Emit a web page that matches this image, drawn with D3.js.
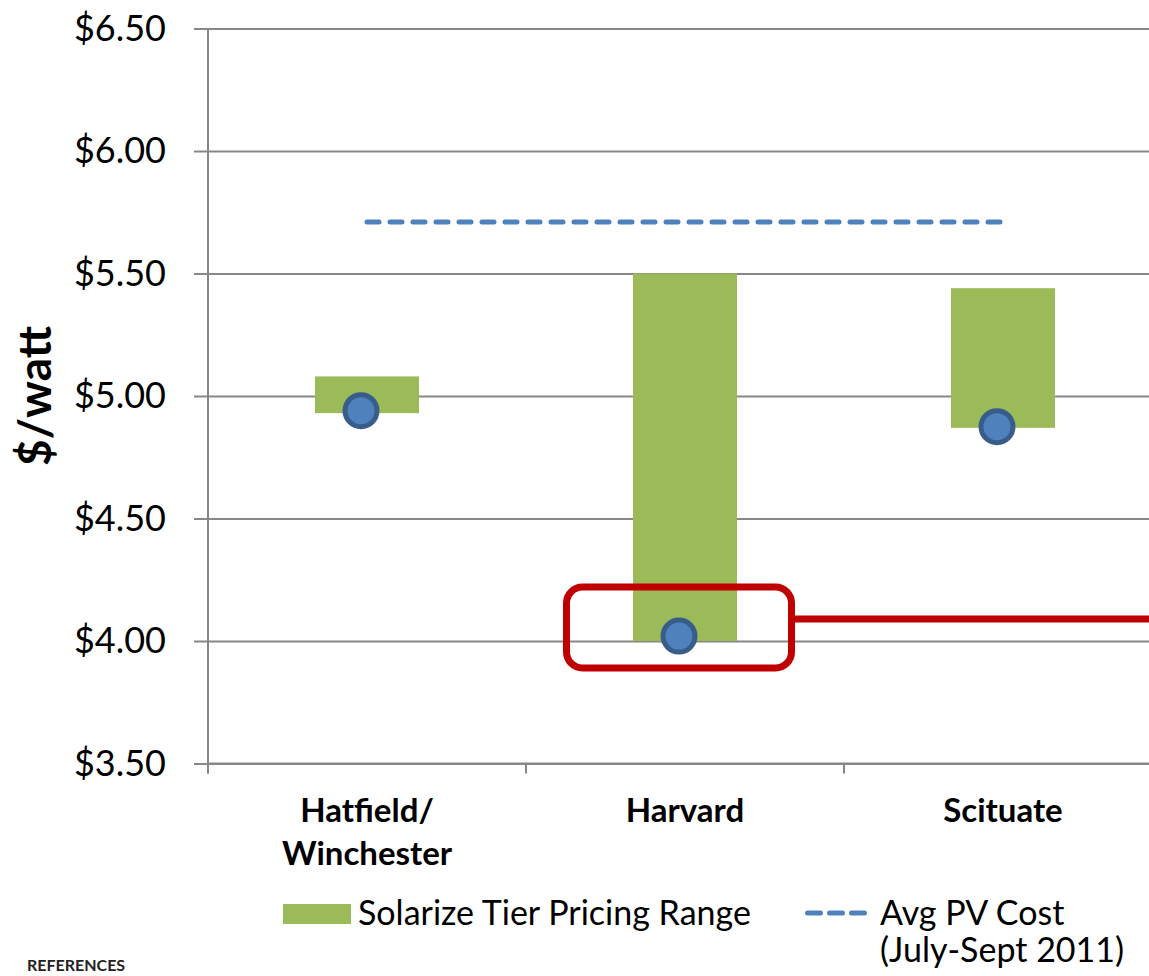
<!DOCTYPE html>
<html>
<head>
<meta charset="utf-8">
<script src="https://cdn.jsdelivr.net/npm/d3@7"></script>
<style>
  body { margin: 0; background: #fff; }
  svg { display: block; font-family: Lato, "Open Sans", sans-serif; }
</style>
</head>
<body>
<svg id="chart" width="1149" height="976"></svg>
<script>
// solarize tier pricing vs avg PV cost, $/watt

const towns = ['Hatfield/\nWinchester', 'Harvard', 'Scituate'];
const tierLow = [4.93, 4.00, 4.87];
const tierHigh = [5.08, 5.50, 5.44];
const finalPrice = [4.94, 4.02, 4.875];
const avgCost = [5.71, 5.71, 5.71];
const yTicks = [3.5, 4.0, 4.5, 5.0, 5.5, 6.0, 6.5];

// red call-out around harvard's final price
const boxTop = 4.22;
const boxBottom = 3.89;
const leaderY = 4.09;

const svg = d3.select('#chart');
const W = 1149;
const left = 208;

const x = d3.scaleBand()
  .domain(towns)
  .range([left, left + 318 * 3])
  .paddingInner(0)
  .paddingOuter(0);

const y = d3.scaleLinear()
  .domain([3.5, 6.5])
  .range([763.5, 28.5]);

const barW = 104;
const fmt = (d) => '$' + d.toFixed(2);

// gridlines + y axis
const yAxis = svg.append('g')
  .attr('transform', `translate(${left},0)`)
  .call(d3.axisLeft(y).tickValues(yTicks).tickFormat(fmt).tickSize(14).tickPadding(28));
yAxis.select('.domain').remove();
yAxis.selectAll('.tick line')
  .attr('x1', -14)
  .attr('x2', W - left)
  .attr('stroke', '#878787')
  .attr('stroke-width', 2);
yAxis.selectAll('.tick text')
  .attr('font-size', 36)
  .attr('fill', '#000')
  .attr('font-family', 'Lato, sans-serif');

svg.append('line')
  .attr('x1', left).attr('x2', left)
  .attr('y1', y(6.5)).attr('y2', y(3.5) + 10)
  .attr('stroke', '#878787').attr('stroke-width', 2);

// x axis: ticks on category boundaries
const xAxis = svg.append('g');
xAxis.append('line')
  .attr('x1', left).attr('x2', W)
  .attr('y1', y(3.5)).attr('y2', y(3.5))
  .attr('stroke', '#878787').attr('stroke-width', 2);
xAxis.selectAll('.xt')
  .data(towns)
  .join('line')
  .attr('x1', (d) => x(d)).attr('x2', (d) => x(d))
  .attr('y1', y(3.5)).attr('y2', y(3.5) + 10)
  .attr('stroke', '#878787').attr('stroke-width', 2);

const labels = xAxis.selectAll('.xl')
  .data(towns)
  .join('text')
  .attr('text-anchor', 'middle')
  .attr('font-weight', 'bold')
  .attr('font-size', 33)
  .attr('fill', '#000');
labels.each(function (d) {
  const lines = d.split('\n');
  d3.select(this).selectAll('tspan')
    .data(lines)
    .join('tspan')
    .attr('x', x(d) + x.bandwidth() / 2)
    .attr('y', (l, i) => 822 + i * 43)
    .text((l) => l);
});

// green tier range bars
svg.selectAll('.bar')
  .data(towns)
  .join('rect')
  .attr('x', (d) => x(d) + x.bandwidth() / 2 - barW / 2)
  .attr('width', barW)
  .attr('y', (d, i) => y(tierHigh[i]))
  .attr('height', (d, i) => y(tierLow[i]) - y(tierHigh[i]))
  .attr('fill', '#9bbb59');

// avg cost dashed line
const line = d3.line()
  .x((d, i) => x(towns[i]) + x.bandwidth() / 2)
  .y((d) => y(d));
svg.append('path')
  .datum(avgCost)
  .attr('d', line)
  .attr('fill', 'none')
  .attr('stroke', '#4f81bd')
  .attr('stroke-width', 5)
  .attr('stroke-linecap', 'round')
  .attr('stroke-dasharray', '12,11');

// final price dots
svg.selectAll('.dot')
  .data(finalPrice)
  .join('circle')
  .attr('cx', (d, i) => x(towns[i]) + x.bandwidth() / 2 - 6)
  .attr('cy', (d) => y(d))
  .attr('r', 16)
  .attr('fill', '#4f81bd')
  .attr('stroke', '#385d8a')
  .attr('stroke-width', 5);

// call-out
const hx = x('Harvard') + x.bandwidth() / 2;
svg.append('rect')
  .attr('x', hx - 118.5)
  .attr('width', 225)
  .attr('y', y(boxTop))
  .attr('height', y(boxBottom) - y(boxTop))
  .attr('rx', 16)
  .attr('fill', 'none')
  .attr('stroke', '#c00000')
  .attr('stroke-width', 7);
svg.append('line')
  .attr('x1', hx + 110).attr('x2', W)
  .attr('y1', y(leaderY)).attr('y2', y(leaderY))
  .attr('stroke', '#c00000')
  .attr('stroke-width', 7);

// y title
svg.append('text')
  .attr('transform', `translate(51,${(y(6.5) + y(3.5)) / 2}) rotate(-90)`)
  .attr('text-anchor', 'middle')
  .attr('font-weight', 'bold')
  .attr('font-size', 46)
  .text('$/watt');

// legend
const lg = svg.append('g');
lg.append('rect')
  .attr('x', 283).attr('y', 904)
  .attr('width', 68).attr('height', 20)
  .attr('fill', '#9bbb59');
lg.append('text')
  .attr('x', 358).attr('y', 925)
  .attr('font-size', 34)
  .text('Solarize Tier Pricing Range');
lg.append('line')
  .attr('x1', 807.5).attr('x2', 864.5)
  .attr('y1', 913).attr('y2', 913)
  .attr('stroke', '#4f81bd')
  .attr('stroke-width', 5)
  .attr('stroke-linecap', 'round')
  .attr('stroke-dasharray', '13,9');
lg.append('text')
  .attr('x', 880).attr('y', 925)
  .attr('font-size', 34)
  .text('Avg PV Cost');
lg.append('text')
  .attr('x', 880).attr('y', 962)
  .attr('font-size', 34)
  .text('(July-Sept 2011)');

svg.append('text')
  .attr('x', 27).attr('y', 971)
  .attr('font-size', 16)
  .attr('font-weight', 'bold')
  .attr('fill', '#222')
  .text('REFERENCES');
</script>
</body>
</html>
